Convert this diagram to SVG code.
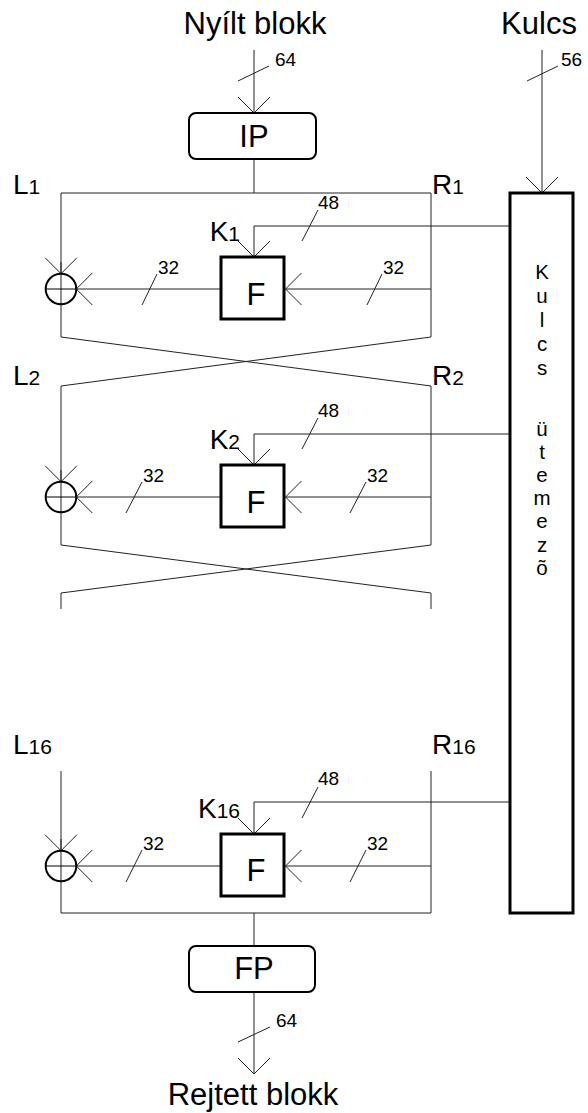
<svg xmlns="http://www.w3.org/2000/svg" width="588" height="1113" viewBox="0 0 588 1113">
<style>
text{font-family:"Liberation Sans",Arial,sans-serif;fill:#000}
.big{font-size:31px}
.lbl{font-size:28px}
.sub{font-size:21px}
.num{font-size:19px}
.ks{font-size:20.5px;text-anchor:middle}
.mid{text-anchor:middle}
.end{text-anchor:end}
.ln{fill:none;stroke:#222;stroke-width:1}
.box{fill:#fff;stroke:#000;stroke-width:3}
.rbox{fill:#fff;stroke:#000;stroke-width:2}
.xor{fill:none;stroke:#000;stroke-width:2}
</style>
<defs>
<marker id="arr" markerUnits="userSpaceOnUse" markerWidth="40" markerHeight="40" viewBox="-20 -20 40 40" refX="0" refY="0" orient="auto" overflow="visible">
<path d="M-16,-16 L0,0 L-16,16" fill="none" stroke="#222" stroke-width="1"/>
</marker>
</defs>

<g id="connectors" class="ln">
<path d="M254,50 V113" marker-end="url(#arr)"/>
<path d="M542,50 V193" marker-end="url(#arr)"/>
<path d="M238,81 L269,66"/>
<path d="M527,81 L558,66"/>
<path d="M254,159 V193"/>
<path d="M61,337 V193 H431 V337"/>
<path d="M61,337 L431,386"/>
<path d="M431,337 L61,386"/>
<path d="M510,226 H254 V257" marker-end="url(#arr)"/>
<path d="M431,289 H285.5" marker-end="url(#arr)"/>
<path d="M221,289 H76.3" marker-end="url(#arr)"/>
<path d="M61,262 V273.7" marker-end="url(#arr)"/>
<path d="M302,241 L318,210"/>
<path d="M367,305 L382,274"/>
<path d="M142,305 L157,274"/>
<path d="M61,386 V545 L431,593 V609"/>
<path d="M431,386 V545 L61,593 V609"/>
<path d="M510,434 H254 V465" marker-end="url(#arr)"/>
<path d="M431,497 H285.5" marker-end="url(#arr)"/>
<path d="M221,497 H76.3" marker-end="url(#arr)"/>
<path d="M61,470 V481.7" marker-end="url(#arr)"/>
<path d="M302,449 L318,418"/>
<path d="M350,513 L366,482"/>
<path d="M126,513 L142,482"/>
<path d="M61,771 V913 H431 V771"/>
<path d="M254,913 V946"/>
<path d="M510,802 H254 V834" marker-end="url(#arr)"/>
<path d="M431,866 H285.5" marker-end="url(#arr)"/>
<path d="M221,866 H76.3" marker-end="url(#arr)"/>
<path d="M61,839 V850.7" marker-end="url(#arr)"/>
<path d="M302,818 L318,787"/>
<path d="M350,882 L366,850"/>
<path d="M126,882 L142,850"/>
<path d="M254,992 V1074" marker-end="url(#arr)"/>
<path d="M238,1042 L270,1027"/>
</g>

<g id="input-plain">
<text class="big mid" x="255" y="34">Nyílt blokk</text>
<text class="num" x="275" y="66">64</text>
</g>
<g id="input-key">
<text class="big mid" x="539" y="34">Kulcs</text>
<text class="num" x="561" y="66">56</text>
</g>

<g id="ip">
<rect class="rbox" x="189" y="113" width="127" height="46" rx="7"/>
<text class="big mid" x="254" y="147">IP</text>
</g>

<g id="key-schedule">
<rect class="box" x="510" y="193" width="63" height="720"/>
<text class="ks" x="542" y="279">K<tspan x="542" dy="24">u</tspan><tspan x="542" dy="24">l</tspan><tspan x="542" dy="23.5">c</tspan><tspan x="542" dy="24">s</tspan><tspan x="542" dy="61">ü</tspan><tspan x="542" dy="23.2">t</tspan><tspan x="542" dy="23.2">e</tspan><tspan x="542" dy="23.2">m</tspan><tspan x="542" dy="23.2">e</tspan><tspan x="542" dy="23.2">z</tspan><tspan x="542" dy="23.2">õ</tspan></text>
</g>

<g id="round1">
<text class="lbl" x="13" y="194">L<tspan class="sub">1</tspan></text>
<text class="lbl" x="432" y="194">R<tspan class="sub">1</tspan></text>
<text class="lbl end" x="240" y="241">K<tspan class="sub">1</tspan></text>
<text class="num" x="318" y="209">48</text>
<text class="num" x="383" y="274">32</text>
<text class="num" x="158" y="274">32</text>
<g id="f1">
<rect class="box" x="221" y="257" width="63" height="62"/>
<text class="big mid" x="256" y="305">F</text>
</g>
<g id="xor1" class="xor">
<circle cx="61" cy="289" r="15.3"/>
<path d="M45.7,289 H76.3" stroke-width="1"/>
</g>
</g>

<g id="round2">
<text class="lbl" x="13" y="385">L<tspan class="sub">2</tspan></text>
<text class="lbl" x="432" y="385">R<tspan class="sub">2</tspan></text>
<text class="lbl end" x="240" y="449">K<tspan class="sub">2</tspan></text>
<text class="num" x="318" y="417">48</text>
<text class="num" x="367" y="482">32</text>
<text class="num" x="143" y="482">32</text>
<g id="f2">
<rect class="box" x="221" y="465" width="63" height="62"/>
<text class="big mid" x="256" y="513">F</text>
</g>
<g id="xor2" class="xor">
<circle cx="61" cy="497" r="15.3"/>
<path d="M45.7,497 H76.3" stroke-width="1"/>
</g>
</g>

<g id="round16">
<text class="lbl" x="13" y="754">L<tspan class="sub">16</tspan></text>
<text class="lbl" x="432" y="754">R<tspan class="sub">16</tspan></text>
<text class="lbl end" x="240" y="818">K<tspan class="sub">16</tspan></text>
<text class="num" x="318" y="785">48</text>
<text class="num" x="367" y="850">32</text>
<text class="num" x="143" y="850">32</text>
<g id="f16">
<rect class="box" x="221" y="834" width="63" height="62"/>
<text class="big mid" x="256" y="881">F</text>
</g>
<g id="xor16" class="xor">
<circle cx="61" cy="866" r="15.3"/>
<path d="M45.7,866 H76.3" stroke-width="1"/>
</g>
</g>

<g id="fp">
<rect class="rbox" x="189" y="946" width="126" height="46" rx="7"/>
<text class="big mid" x="254" y="979">FP</text>
</g>

<g id="output">
<text class="num" x="276" y="1027">64</text>
<text class="big mid" x="253" y="1105">Rejtett blokk</text>
</g>
</svg>
